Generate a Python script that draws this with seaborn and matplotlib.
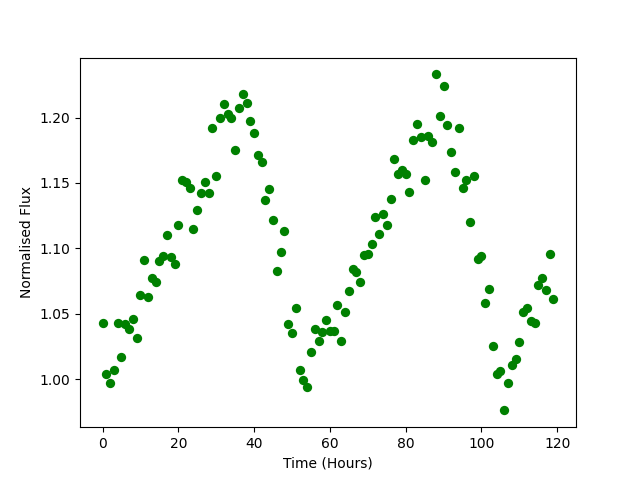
import numpy as np
import pandas as pd
import matplotlib
matplotlib.use("Agg")
import matplotlib.pyplot as plt
import seaborn as sns

# time in hours, one reading per hour
hours = list(range(120))

# normalised flux
flux = [
    1.043, 1.004, 0.997, 1.007, 1.043, 1.017, 1.042, 1.038, 1.046, 1.031,
    1.064, 1.091, 1.063, 1.077, 1.074, 1.090, 1.094, 1.110, 1.093, 1.088,
    1.118, 1.152, 1.151, 1.146, 1.115, 1.129, 1.142, 1.151, 1.142, 1.192,
    1.155, 1.200, 1.210, 1.203, 1.200, 1.175, 1.207, 1.218, 1.211, 1.197,
    1.188, 1.171, 1.166, 1.137, 1.145, 1.122, 1.083, 1.097, 1.113, 1.042,
    1.035, 1.054, 1.007, 0.999, 0.994, 1.021, 1.038, 1.029, 1.036, 1.045,
    1.037, 1.037, 1.057, 1.029, 1.051, 1.067, 1.084, 1.082, 1.074, 1.095,
    1.096, 1.103, 1.124, 1.111, 1.126, 1.118, 1.138, 1.168, 1.157, 1.160,
    1.157, 1.143, 1.183, 1.195, 1.185, 1.152, 1.186, 1.181, 1.233, 1.201,
    1.224, 1.194, 1.174, 1.158, 1.192, 1.146, 1.152, 1.120, 1.155, 1.092,
    1.094, 1.058, 1.069, 1.025, 1.004, 1.006, 0.976, 0.997, 1.011, 1.015,
    1.028, 1.051, 1.054, 1.044, 1.043, 1.072, 1.077, 1.068, 1.096, 1.061,
]

df = pd.DataFrame({"Time": hours, "Flux": flux})

fig, ax = plt.subplots(figsize=(6.4, 4.8), dpi=100)
sns.scatterplot(data=df, x="Time", y="Flux", color="green", s=45, linewidth=0, ax=ax)
ax.set_xlabel("Time (Hours)")
ax.set_ylabel("Normalised Flux")

plt.savefig("out.png", dpi=100)
